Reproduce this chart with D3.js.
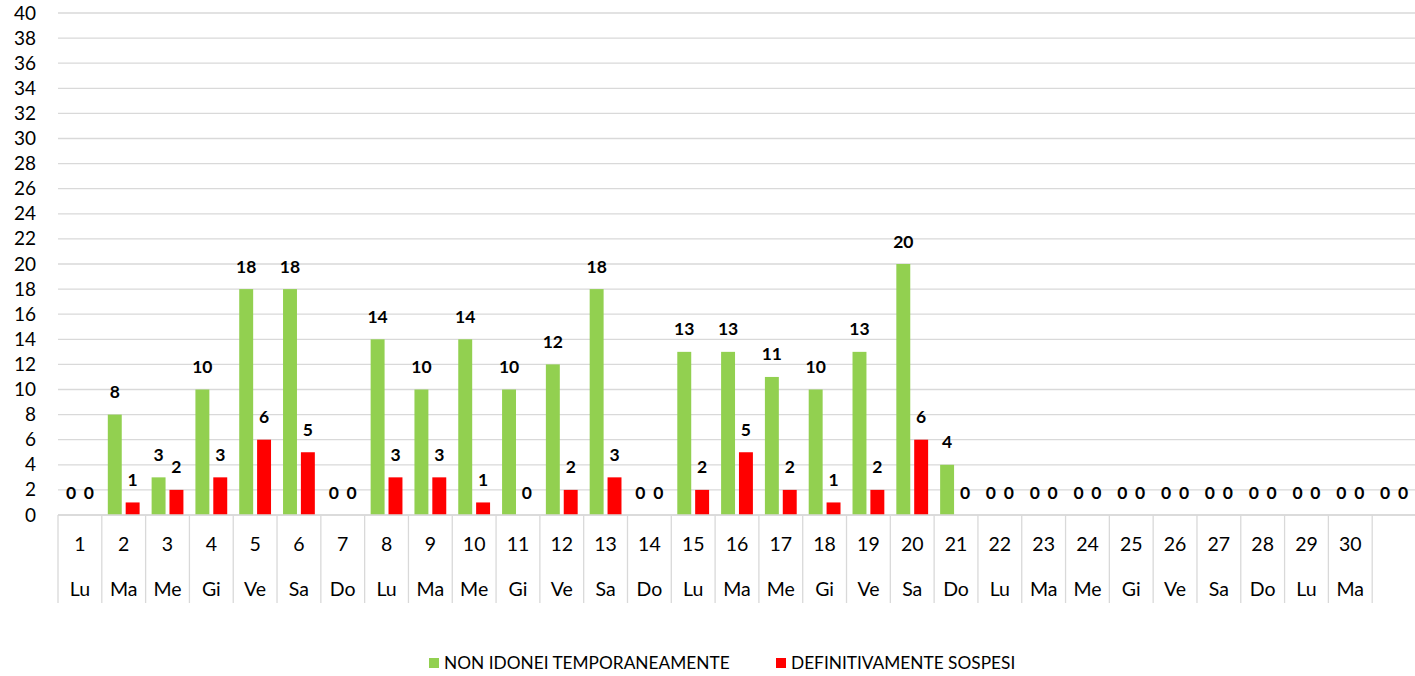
<!DOCTYPE html>
<html><head><meta charset="utf-8">
<script src="https://cdn.jsdelivr.net/npm/d3@7"></script>
<style>body{margin:0;background:#fff}svg{display:block}</style>
</head><body>
<svg id="c" width="1415" height="676"></svg>
<script>
const days = ["1","2","3","4","5","6","7","8","9","10","11","12","13","14","15","16","17","18","19","20","21","22","23","24","25","26","27","28","29","30",""];
const weekdays = ["Lu","Ma","Me","Gi","Ve","Sa","Do","Lu","Ma","Me","Gi","Ve","Sa","Do","Lu","Ma","Me","Gi","Ve","Sa","Do","Lu","Ma","Me","Gi","Ve","Sa","Do","Lu","Ma",""];
const nonIdonei = [0,8,3,10,18,18,0,14,10,14,10,12,18,0,13,13,11,10,13,20,4,0,0,0,0,0,0,0,0,0,0];
const sospesi = [0,1,2,3,6,5,0,3,3,1,0,2,3,0,2,5,2,1,2,6,0,0,0,0,0,0,0,0,0,0,0];
const seriesNames = ["NON IDONEI TEMPORANEAMENTE","DEFINITIVAMENTE SOSPESI"];
const colors = ["#92D050","#FF0000"];
const yTicks = d3.range(0,41,2);

const svg = d3.select("#c");
const font = "Lato, 'Open Sans', sans-serif";
const L = 58, R = 1416, T = 13, B = 515;
const x = d3.scaleBand().domain(d3.range(days.length)).range([L,R]).paddingInner(0).paddingOuter(0);
const xs = d3.scaleBand().domain([0,1]).range([6, x.bandwidth()-6]).paddingInner(0.22);
const y = d3.scaleLinear().domain([0,40]).range([B,T]);

// grid
svg.append("g").selectAll("line").data(yTicks).join("line")
  .attr("x1",L).attr("x2",R).attr("y1",d=>y(d)).attr("y2",d=>y(d))
  .attr("stroke","#d9d9d9").attr("stroke-width",1.3);

// y axis labels
const ya = svg.append("g").attr("transform",`translate(${L},0)`)
  .call(d3.axisLeft(y).tickValues(yTicks).tickSize(0).tickPadding(22));
ya.select(".domain").remove();
ya.selectAll("text").attr("font-family",font).attr("font-size",19).attr("fill","#000");

// category separators
svg.append("g").selectAll("line").data(d3.range(days.length+1)).join("line")
  .attr("x1",i=>i<days.length?x(i):R).attr("x2",i=>i<days.length?x(i):R)
  .attr("y1",B).attr("y2",603).attr("stroke","#d9d9d9").attr("stroke-width",1.3);

// x axis labels
const xa = svg.append("g").attr("transform",`translate(0,${B})`)
  .call(d3.axisBottom(x).tickFormat(i=>days[i]).tickSize(0).tickPadding(22));
xa.select(".domain").remove();
xa.selectAll("text").attr("font-family",font).attr("font-size",19.5).attr("fill","#000");
svg.append("g").selectAll("text").data(d3.range(weekdays.length)).join("text")
  .attr("x",i=>x(i)+x.bandwidth()/2).attr("y",596).attr("text-anchor","middle")
  .attr("font-family",font).attr("font-size",19.5).text(i=>weekdays[i]);

// bars
const series = [nonIdonei, sospesi];
series.forEach((vals,s)=>{
  const g = svg.append("g");
  g.selectAll("rect").data(vals).join("rect")
    .attr("x",(d,i)=>x(i)+xs(s)).attr("width",xs.bandwidth())
    .attr("y",d=>y(d)).attr("height",d=>B-y(d)).attr("fill",colors[s]);
  g.selectAll("text").data(vals).join("text")
    .attr("x",(d,i)=>x(i)+xs(s)+xs.bandwidth()/2).attr("y",d=>y(d)-16.5)
    .attr("text-anchor","middle").attr("font-family",font).attr("font-weight","bold")
    .attr("font-size",17.5).text(d=>d);
});

// baseline
svg.append("line").attr("x1",L).attr("x2",R).attr("y1",B).attr("y2",B).attr("stroke","#d9d9d9").attr("stroke-width",1.3);

// legend
const leg = [{x:429,name:seriesNames[0],c:colors[0]},{x:776,name:seriesNames[1],c:colors[1]}];
leg.forEach(l=>{
  svg.append("rect").attr("x",l.x).attr("y",658).attr("width",10).attr("height",10).attr("fill",l.c);
  svg.append("text").attr("x",l.x+15).attr("y",669).attr("font-family",font).attr("font-size",17.3).text(l.name);
});
</script>
</body></html>
